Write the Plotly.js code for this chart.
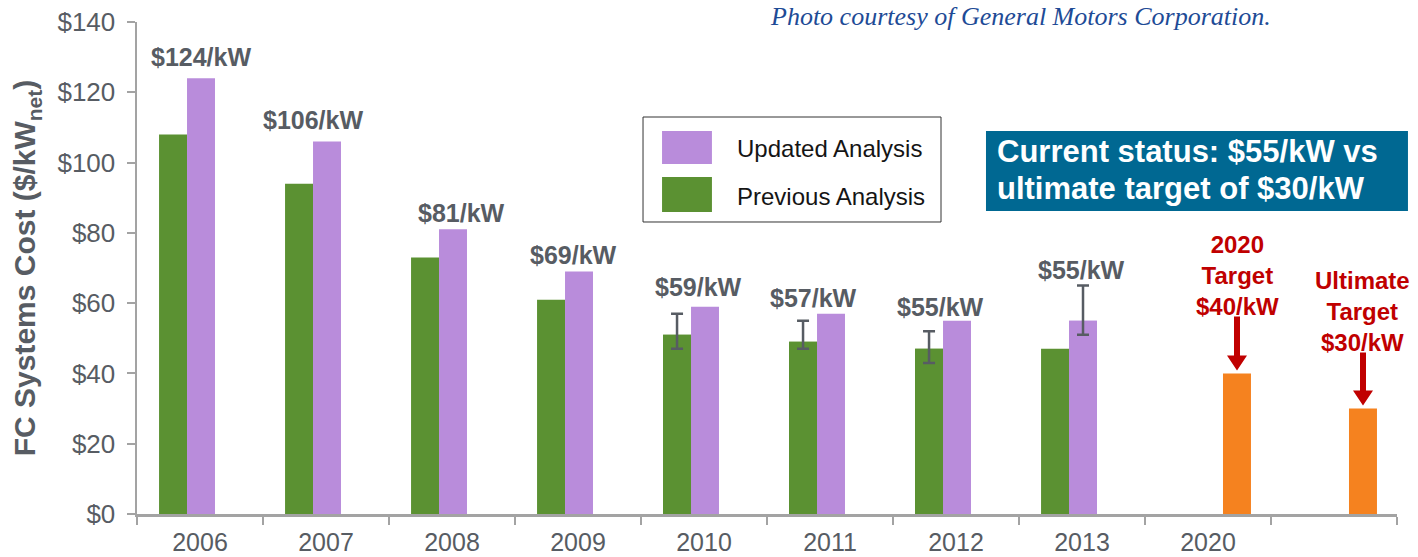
<!DOCTYPE html>
<html>
<head>
<meta charset="utf-8">
<script src="https://cdn.plot.ly/plotly-3.0.1.min.js"></script>
<style>html,body{margin:0;padding:0;background:#fff;}#chart{width:1418px;height:557px;}</style>
</head>
<body>
<div id="chart"></div>
<script>
// ---- data ----
var categories = ["2006","2007","2008","2009","2010","2011","2012","2013","2020","Ultimate"];
var tickLabels = ["2006","2007","2008","2009","2010","2011","2012","2013","2020",""];
var analysisYears = ["2006","2007","2008","2009","2010","2011","2012","2013"];
var previousAnalysis = [108, 94, 73, 61, 51, 49, 47, 47];
var updatedAnalysis = [124, 106, 81, 69, 59, 57, 55, 55];
// error bars (null = none)
var previousErrPlus  = [null, null, null, null, 6, 6, 5, null];
var previousErrMinus = [null, null, null, null, 4, 2, 4, null];
var updatedErrPlus   = [null, null, null, null, null, null, null, 10];
var updatedErrMinus  = [null, null, null, null, null, null, null, 4];
var targetCats = ["2020", "Ultimate"];
var targetValues = [40, 30];
var costLabels = ["$124/kW","$106/kW","$81/kW","$69/kW","$59/kW","$57/kW","$55/kW","$55/kW"];
var targetLabels = ["2020<br>Target<br>$40/kW", "Ultimate<br>Target<br>$30/kW"];

// ---- styling ----
var GREEN = "#5b9132", PURPLE = "#b98cdb", ORANGE = "#f5821f", RED = "#c00000";
var GREY = "#575c63", AXIS = "#a3a3a3";
var FONT = "Liberation Sans, Arial, sans-serif";
var BW = 0.222;

function pick(arr, idx){ return idx.map(function(i){ return arr[i]; }); }
function withErr(plus){ var r=[]; plus.forEach(function(v,i){ if(v!==null) r.push(i); }); return r; }
function catIndex(c){ return categories.indexOf(c); }

var traces = [];
traces.push({type:"bar", x: analysisYears, y: previousAnalysis, name:"Previous Analysis",
  marker:{color:GREEN}, width:BW, offset:-0.325, showlegend:false});
traces.push({type:"bar", x: analysisYears, y: updatedAnalysis, name:"Updated Analysis",
  marker:{color:PURPLE}, width:BW, offset:-0.103, showlegend:false});
var pe = withErr(previousErrPlus);
traces.push({type:"bar", x: pick(analysisYears,pe), y: pick(previousAnalysis,pe), name:"Previous (range)",
  marker:{color:GREEN}, width:BW, offset:-0.325, showlegend:false,
  error_y:{type:"data", symmetric:false, array: pick(previousErrPlus,pe), arrayminus: pick(previousErrMinus,pe),
    color:GREY, thickness:2.5, width:6}});
var ue = withErr(updatedErrPlus);
traces.push({type:"bar", x: pick(analysisYears,ue), y: pick(updatedAnalysis,ue), name:"Updated (range)",
  marker:{color:PURPLE}, width:BW, offset:-0.103, showlegend:false,
  error_y:{type:"data", symmetric:false, array: pick(updatedErrPlus,ue), arrayminus: pick(updatedErrMinus,ue),
    color:GREY, thickness:2.5, width:6}});
traces.push({type:"bar", x: targetCats, y: targetValues, name:"Targets",
  marker:{color:ORANGE}, width:BW, offset:0.119, showlegend:false});

// text placement (label centres, data units / pixel shifts)
var labelY = [129.9, 112, 85.7, 73.7, 64.6, 61.5, 58.9, 69.4];
var labelShift = [1, -13, 9, -5, -6, -17, -16, -1];
var targetLabelY = [68.0, 57.6];
var targetShift = [29, 28];

var annotations = [];
costLabels.forEach(function(t,i){
  annotations.push({xref:"x", yref:"y", x: catIndex(analysisYears[i]), y: labelY[i], xshift: labelShift[i],
    text:"<b>"+t+"</b>", showarrow:false, xanchor:"center", yanchor:"middle",
    font:{family:FONT, size:25, color:GREY}});
});
targetCats.forEach(function(c,k){
  annotations.push({xref:"x", yref:"y", x: catIndex(c), y: targetLabelY[k], xshift: targetShift[k],
    text:"<b>"+targetLabels[k]+"</b>", showarrow:false, xanchor:"center", yanchor:"middle", align:"center",
    font:{family:FONT, size:24, color:RED}});
});
// legend text
annotations.push({xref:"paper", yref:"paper", x:0.4746, y:0.7439, xanchor:"left", yanchor:"middle",
  text:"Updated Analysis", showarrow:false, font:{family:FONT, size:24, color:"#151515"}});
annotations.push({xref:"paper", yref:"paper", x:0.4746, y:0.6463, xanchor:"left", yanchor:"middle",
  text:"Previous Analysis", showarrow:false, font:{family:FONT, size:24, color:"#151515"}});
// status box text
annotations.push({xref:"paper", yref:"paper", x:0.6810, y:0.7368, xanchor:"left", yanchor:"middle", align:"left",
  text:"<b>Current status: $55/kW vs</b>", showarrow:false, font:{family:FONT, size:31, color:"#ffffff"}});
annotations.push({xref:"paper", yref:"paper", x:0.6810, y:0.6626, xanchor:"left", yanchor:"middle", align:"left",
  text:"<b>ultimate target of $30/kW</b>", showarrow:false, font:{family:FONT, size:31, color:"#ffffff"}});
// photo credit
annotations.push({xref:"paper", yref:"paper", x:0.7008, y:1.0102, xanchor:"center", yanchor:"middle",
  text:"<i>Photo courtesy of General Motors Corporation.</i>", showarrow:false,
  font:{family:"Liberation Serif, DejaVu Serif, serif", size:26, color:"#1e4b96"}});

var shapes = [
  {type:"rect", xref:"paper", yref:"paper", x0:0.4016, x1:0.6381, y0:0.5935, y1:0.8069,
    line:{color:"#333333", width:1}, fillcolor:"rgba(0,0,0,0)"},
  {type:"rect", xref:"paper", yref:"paper", x0:0.4167, x1:0.4563, y0:0.7114, y1:0.7785,
    line:{width:0}, fillcolor:PURPLE},
  {type:"rect", xref:"paper", yref:"paper", x0:0.4167, x1:0.4563, y0:0.6138, y1:0.685,
    line:{width:0}, fillcolor:GREEN},
  {type:"rect", xref:"paper", yref:"paper", x0:0.6738, x1:1.0087, y0:0.6159, y1:0.7785,
    line:{width:0}, fillcolor:"#006892"}
];
// red arrows pointing at target bars (anchored to the bar tops, pixel-sized)
var arrowLen = [57, 56];
targetCats.forEach(function(c,k){
  var L = arrowLen[k];
  shapes.push({type:"path", xref:"x", yref:"y", xsizemode:"pixel", ysizemode:"pixel",
    xanchor: catIndex(c), yanchor: targetValues[k],
    path:"M 26," + L + " L 32," + L + " L 32,18 L 39,18 L 29,3 L 19,18 L 26,18 Z",
    fillcolor:RED, line:{width:0}});
});

var layout = {
  width:1418, height:557,
  margin:{l:137, r:21, t:22, b:43},
  paper_bgcolor:"#ffffff", plot_bgcolor:"#ffffff",
  barmode:"overlay",
  showlegend:false,
  font:{family:FONT, color:GREY},
  xaxis:{type:"category", categoryorder:"array", categoryarray:categories,
    tickmode:"array", tickvals:categories, ticktext:tickLabels, tickson:"boundaries",
    range:[-0.5, 9.5], showline:true, linecolor:AXIS, linewidth:2.5, showgrid:false, zeroline:false,
    ticks:"outside", ticklen:8, tickwidth:2, tickcolor:AXIS, ticklabelstandoff:4,
    tickfont:{family:FONT, size:25, color:GREY}, fixedrange:true},
  yaxis:{range:[0,140], dtick:20, tick0:0, tickprefix:"$", showline:true, linecolor:AXIS, linewidth:2.5,
    showgrid:false, zeroline:false, ticks:"outside", ticklen:8, tickwidth:2, tickcolor:AXIS,
    ticklabelstandoff:6, tickfont:{family:FONT, size:26, color:GREY}, automargin:false,
    title:{text:"<b>FC Systems Cost ($/kW<sub>net</sub>)</b>", font:{family:FONT, size:30, color:GREY}, standoff:13},
    fixedrange:true},
  annotations:annotations,
  shapes:shapes
};

Plotly.newPlot("chart", traces, layout, {displayModeBar:false, staticPlot:true});
</script>
</body>
</html>
